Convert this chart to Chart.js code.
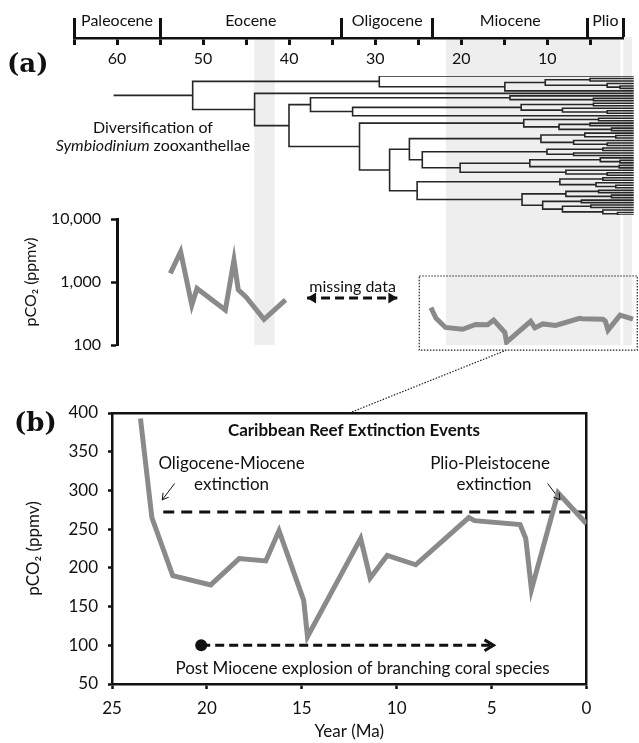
<!DOCTYPE html>
<html lang="en">
<head>
<meta charset="utf-8">
<title>Symbiodinium diversification and pCO2</title>
<script src="https://cdn.jsdelivr.net/npm/chart.js@4.4.1/dist/chart.umd.min.js"></script>
<style>
  html, body { margin: 0; background: #fff; }
  #fig { position: relative; width: 639px; height: 743px; overflow: hidden; color: #111; font-family: Lato, sans-serif; }
  #fig canvas { position: absolute; left: 0; }
  .tag { position: absolute; font: bold 26px/30px "DejaVu Serif", serif; }
  .caption { position: absolute; width: 220px; text-align: center; font-size: 16px; line-height: 18px; }
</style>
</head>
<body>
<div id="fig">
  <canvas id="bands" width="639" height="350" style="top:0"></canvas>
  <canvas id="timeline" width="639" height="80" style="top:0"></canvas>
  <canvas id="tree" width="639" height="155" style="top:70px"></canvas>
  <canvas id="co2a" width="639" height="175" style="top:190px"></canvas>
  <canvas id="co2b" width="639" height="403" style="top:340px"></canvas>
  <div class="tag" style="left:7px;top:48px">(a)</div>
  <div class="tag" style="left:14px;top:407px">(b)</div>
  <div class="caption" style="left:43px;top:118px">Diversification of<br><i>Symbiodinium</i> zooxanthellae</div>
</div>
<script>
// geologic time scale (Ma)
var epochNames = ['Paleocene', 'Eocene', 'Oligocene', 'Miocene', 'Plio'];
var epochBounds = [65, 55, 33.9, 23.3, 5.3, 1.2];
var timeTicks = [65, 60, 55, 50, 45, 40, 35, 30, 25, 20, 15, 10, 5];

// shaded intervals (Ma)
var bandsMa = [[44.0, 41.7], [21.7, 1.5], [1.1, 0.15]];

// Eocene pCO2 record (ppmv)
var eoceneAge = [53.8, 52.6, 51.3, 50.7, 47.4, 46.4, 45.9, 45.0, 42.9, 40.4];
var eoceneCO2 = [1370, 3030, 430, 790, 360, 2230, 750, 580, 255, 520];

// Neogene pCO2 record (ppmv)
var neogeneAge = [23.5, 22.9, 21.8, 19.8, 18.3, 16.9, 16.2, 14.9, 14.7, 11.9, 11.4, 10.5, 9.0, 6.2, 5.9, 3.5, 3.2, 2.9, 1.5, 0];
var neogeneCO2 = [393, 265, 190, 178, 212, 209, 248, 158, 111, 238, 187, 216, 204, 265, 261, 256, 238, 172, 297, 257];

var extinctionLevel = 272;
var extinctionFrom = 22.3;
var radiationStart = 20.3, radiationEnd = 4.9, radiationLevel = 100;

// Symbiodinium clade tree, node ages in Ma (tips are present day)
var TIP = 0;
function N(age) { return { age: age, kids: Array.prototype.slice.call(arguments, 1) }; }
var rootAge = 60.3;
var tree = N(51.2,
  N(29.5,
    TIP,
    N(14.9,
      N(10.2, N(5, TIP, TIP), N(3, TIP, N(1.5, TIP, TIP))),
      TIP)),
  N(44,
    TIP,
    N(40,
      N(37.5,
        N(14.3, TIP, N(4.6, TIP, TIP)),
        N(32.6,
          N(13, N(4.6, TIP, TIP), N(8.2, TIP, N(3, TIP, TIP))),
          TIP)),
      N(31.8,
        N(12.7, N(4, TIP, TIP), N(8.6, N(5, TIP, TIP), N(2.5, TIP, TIP))),
        N(28.3,
          N(26,
            N(10.7, N(5.6, TIP, N(2, TIP, TIP)), N(6.9, TIP, N(3, TIP, TIP))),
            N(24.5,
              N(10, N(3.5, TIP, TIP), N(6.9, TIP, TIP)),
              N(20.1,
                N(12, N(3.8, TIP, N(1.5, TIP, TIP)), N(1.6, TIP, TIP)),
                N(7.8, TIP, N(3, TIP, TIP))))),
          N(25.1,
            N(8.5, N(3.5, TIP, TIP), N(4.3, TIP, N(2, TIP, TIP))),
            N(12.9,
              N(7.8, N(4, TIP, TIP), N(2.5, TIP, TIP)),
              N(10.5, N(6, TIP, TIP), N(8.2, N(4.9, TIP, TIP), N(3.5, TIP, N(1.8, TIP, TIP)))))))))));

// ---- layout ----
var ink = '#111';
var grey = '#8a8a8a';
var shade = '#eeeeee';
Chart.defaults.font.family = 'Lato';
Chart.defaults.color = ink;

// top panel time axis runs from 65 Ma at x=74 to -0.7 Ma at the right edge
var TIME_LEFT = 74, TIME_RIGHT = 639, AGE_OLD = 65, AGE_YOUNG = -0.7;
function ageAtPx(px) {
  return AGE_OLD + (px - TIME_LEFT) * (AGE_YOUNG - AGE_OLD) / (TIME_RIGHT - TIME_LEFT);
}

function xy(xs, ys) { return xs.map(function (x, i) { return { x: x, y: ys[i] }; }); }

function baseOptions(padding) {
  return {
    responsive: false, animation: false, events: [],
    layout: { padding: padding },
    plugins: { legend: { display: false }, tooltip: { enabled: false } }
  };
}

// text placed in data units
function notes(items) {
  return {
    id: 'notes',
    afterDraw: function (chart) {
      var ctx = chart.ctx;
      items.forEach(function (n) {
        ctx.save();
        ctx.font = n.font;
        ctx.fillStyle = ink;
        ctx.textAlign = 'center';
        ctx.textBaseline = 'middle';
        ctx.fillText(n.text, chart.scales.x.getPixelForValue(n.x), chart.scales.y.getPixelForValue(n.y));
        ctx.restore();
      });
    }
  };
}

// arrow heads on the ends of datasets that ask for them
var arrowHeads = {
  id: 'arrowHeads',
  afterDatasetsDraw: function (chart) {
    var ctx = chart.ctx;
    chart.data.datasets.forEach(function (ds, i) {
      if (!ds.arrow) return;
      var pts = chart.getDatasetMeta(i).data;
      function head(tip, from) {
        var a = Math.atan2(tip.y - from.y, tip.x - from.x), s = ds.arrow.size;
        ctx.save();
        ctx.translate(tip.x, tip.y);
        ctx.rotate(a);
        ctx.beginPath();
        ctx.moveTo(-s, -s * 0.6);
        ctx.lineTo(0, 0);
        ctx.lineTo(-s, s * 0.6);
        if (ds.arrow.fill) {
          ctx.closePath();
          ctx.fillStyle = ds.borderColor;
          ctx.fill();
        } else {
          ctx.lineWidth = ds.arrow.width;
          ctx.strokeStyle = ds.borderColor;
          ctx.stroke();
        }
        ctx.restore();
      }
      if (ds.arrow.end) head(pts[pts.length - 1], pts[pts.length - 2]);
      if (ds.arrow.start) head(pts[0], pts[1]);
    });
  }
};

// ---- shaded intervals ----
new Chart(document.getElementById('bands'), {
  type: 'bar',
  data: {
    labels: ['interval'],
    datasets: bandsMa.map(function (b) {
      return { data: [b], backgroundColor: shade, grouped: false, barPercentage: 1, categoryPercentage: 1 };
    })
  },
  options: Object.assign(baseOptions({ left: TIME_LEFT, right: 0, top: 37, bottom: 5 }), {
    indexAxis: 'y',
    scales: {
      x: { type: 'linear', min: AGE_YOUNG, max: AGE_OLD, reverse: true, display: false },
      y: { display: false }
    }
  })
});

// ---- epoch / age axis ----
new Chart(document.getElementById('timeline'), {
  type: 'line',
  data: { datasets: [] },
  options: Object.assign(baseOptions({ left: TIME_LEFT, right: 16, top: 0, bottom: 0 }), {
    scales: {
      x: {
        type: 'linear', position: 'bottom', min: 1.2, max: 65, reverse: true,
        afterBuildTicks: function (s) { s.ticks = timeTicks.map(function (v) { return { value: v }; }); },
        afterFit: function (s) { s.height = 42; },
        ticks: {
          autoSkip: false, maxRotation: 0, padding: 4, color: ink, font: { size: 16 },
          callback: function (v) { return v % 10 === 0 ? String(v) : ''; }
        },
        grid: { drawOnChartArea: false, tickLength: 7, tickWidth: 3, tickColor: ink },
        border: { color: ink, width: 2.5 }
      },
      epochs: {
        type: 'linear', axis: 'x', position: 'top', min: 1.2, max: 65, reverse: true,
        afterBuildTicks: function (s) {
          var t = epochBounds.map(function (v) { return { value: v }; });
          epochNames.forEach(function (name, i) {
            t.push({ value: (epochBounds[i] + epochBounds[i + 1]) / 2, name: name });
          });
          s.ticks = t;
        },
        afterFit: function (s) { s.height = 37; },
        ticks: {
          autoSkip: false, maxRotation: 0, padding: -12, color: ink, font: { size: 16 },
          callback: function (v, i, ticks) { return ticks[i].name || ''; }
        },
        grid: {
          drawOnChartArea: false, tickLength: 19, tickWidth: 3,
          tickColor: function (c) { return c.tick && c.tick.name ? 'rgba(0,0,0,0)' : ink; }
        },
        border: { display: false }
      },
      y: { display: false, min: 0, max: 1 }
    }
  })
});

// ---- phylogeny ----
var branches = [];
var tipCount = 0;
function place(node, parentAge) {
  var age, y;
  if (node === TIP) {
    age = 0;
    y = tipCount++;
  } else {
    var ys = node.kids.map(function (k) { return place(k, node.age); });
    age = node.age;
    y = (ys[0] + ys[ys.length - 1]) / 2;
    branches.push({ x: age, y: ys[0] }, { x: age, y: ys[ys.length - 1] }, { x: age, y: null });
  }
  branches.push({ x: parentAge, y: y }, { x: age, y: y }, { x: age, y: null });
  return y;
}
place(tree, rootAge);

new Chart(document.getElementById('tree'), {
  type: 'line',
  data: {
    datasets: [{
      data: branches, borderColor: '#262626', borderWidth: 1.6, pointRadius: 0,
      spanGaps: false, borderCapStyle: 'square'
    }]
  },
  options: Object.assign(baseOptions({ left: TIME_LEFT, right: 0, top: 6, bottom: 10 }), {
    scales: {
      x: { type: 'linear', min: AGE_YOUNG, max: AGE_OLD, reverse: true, display: false },
      y: { type: 'linear', min: 0, max: tipCount - 1, reverse: true, display: false }
    }
  })
});

// ---- (a) pCO2 on the geologic time axis ----
var boxOld = 24.85, boxYoung = -0.5, boxHigh = 1245, boxLow = 83;
new Chart(document.getElementById('co2a'), {
  type: 'line',
  data: {
    datasets: [
      { data: xy(eoceneAge, eoceneCO2), borderColor: grey, borderWidth: 5, pointRadius: 0, borderJoinStyle: 'miter' },
      { data: xy(neogeneAge, neogeneCO2), borderColor: grey, borderWidth: 5, pointRadius: 0, borderJoinStyle: 'miter' },
      {
        data: [{ x: 37.9, y: 557 }, { x: 27.4, y: 557 }], borderColor: ink, borderWidth: 3,
        borderDash: [9, 5], pointRadius: 0, arrow: { start: true, end: true, fill: true, size: 9 }
      },
      {
        data: [{ x: boxOld, y: boxHigh }, { x: boxYoung, y: boxHigh }, { x: boxYoung, y: boxLow },
               { x: boxOld, y: boxLow }, { x: boxOld, y: boxHigh }],
        borderColor: '#222', borderWidth: 1.2, borderDash: [1.5, 1.5], pointRadius: 0, clip: false
      }
    ]
  },
  options: Object.assign(baseOptions({ left: 0, right: 0, top: 29, bottom: 20 }), {
    scales: {
      x: { type: 'linear', min: AGE_YOUNG, max: ageAtPx(117), reverse: true, display: false },
      y: {
        type: 'logarithmic', min: 100, max: 10000,
        afterBuildTicks: function (s) { s.ticks = [100, 1000, 10000].map(function (v) { return { value: v }; }); },
        afterFit: function (s) { s.width = 117; },
        ticks: {
          padding: 10, color: ink, font: { size: 16 },
          callback: function (v) { return Number(v).toLocaleString('en-US'); }
        },
        grid: { drawOnChartArea: false, tickLength: 6, tickWidth: 2.5, tickColor: ink },
        border: { color: ink, width: 3 },
        title: { display: true, text: 'pCO\u2082 (ppmv)', font: { size: 16 }, padding: { top: 21, bottom: 0 } }
      }
    }
  }),
  plugins: [arrowHeads, notes([{ text: 'missing data', x: 32.6, y: 842, font: '16px Lato' }])]
});

// ---- (b) Neogene pCO2 and Caribbean reef extinctions ----
var frameAxis = {
  type: 'linear', grid: { drawOnChartArea: false, drawTicks: false },
  ticks: { display: false }, border: { color: ink, width: 2.5 }
};
new Chart(document.getElementById('co2b'), {
  type: 'line',
  data: {
    datasets: [
      { data: xy(neogeneAge, neogeneCO2), borderColor: grey, borderWidth: 5, pointRadius: 0, borderJoinStyle: 'miter' },
      {
        data: [{ x: extinctionFrom, y: extinctionLevel }, { x: 0, y: extinctionLevel }],
        borderColor: ink, borderWidth: 3, borderDash: [11, 7], pointRadius: 0
      },
      {
        data: [{ x: radiationStart, y: radiationLevel }, { x: radiationEnd, y: radiationLevel }],
        borderColor: ink, borderWidth: 3, borderDash: [9, 5],
        pointRadius: [6, 0], pointBackgroundColor: ink, pointBorderWidth: 0,
        arrow: { end: true, fill: false, size: 9, width: 3 }
      },
      {
        data: [{ x: 21.7, y: 309 }, { x: 22.35, y: 288 }], borderColor: ink, borderWidth: 1,
        pointRadius: 0, arrow: { end: true, fill: false, size: 6, width: 1 }
      },
      {
        data: [{ x: 2.05, y: 309 }, { x: 1.4, y: 288 }], borderColor: ink, borderWidth: 1,
        pointRadius: 0, arrow: { end: true, fill: false, size: 6, width: 1 }
      },
      {
        data: [{ x: 12.5, y: 400 }, { x: 4.24, y: 481 }], borderColor: '#222', borderWidth: 1.2,
        borderDash: [1.5, 1.5], pointRadius: 0, clip: false
      }
    ]
  },
  options: Object.assign(baseOptions({ left: 0, right: 52.5, top: 73, bottom: 0 }), {
    scales: {
      x: {
        type: 'linear', min: 0, max: 25, reverse: true,
        afterFit: function (s) { s.height = 59; },
        ticks: { stepSize: 5, padding: 9, color: ink, font: { size: 17 }, maxRotation: 0 },
        grid: { drawOnChartArea: false, tickLength: 5, tickWidth: 2.5, tickColor: ink },
        border: { color: ink, width: 2.5 },
        title: { display: true, text: 'Year (Ma)', font: { size: 17 }, padding: { top: 0, bottom: 1 } }
      },
      y: {
        type: 'linear', min: 50, max: 400,
        afterFit: function (s) { s.width = 112; },
        ticks: { stepSize: 50, padding: 10, color: ink, font: { size: 17 } },
        grid: { drawOnChartArea: false, tickLength: 4, tickWidth: 2.5, tickColor: ink },
        border: { color: ink, width: 2.5 },
        title: { display: true, text: 'pCO\u2082 (ppmv)', font: { size: 17 }, padding: { top: 23, bottom: 0 } }
      },
      xTop: Object.assign({ axis: 'x', position: 'top', min: 0, max: 25, afterFit: function (s) { s.height = 0; } }, frameAxis),
      yRight: Object.assign({ axis: 'y', position: 'right', min: 50, max: 400, afterFit: function (s) { s.width = 0; } }, frameAxis)
    }
  }),
  plugins: [arrowHeads, notes([
    { text: 'Caribbean Reef Extinction Events', x: 12.25, y: 378, font: 'bold 17px Lato' },
    { text: 'Oligocene-Miocene', x: 18.7, y: 335, font: '17px Lato' },
    { text: 'extinction', x: 18.7, y: 307, font: '17px Lato' },
    { text: 'Plio-Pleistocene', x: 5.08, y: 335, font: '17px Lato' },
    { text: 'extinction', x: 4.87, y: 307, font: '17px Lato' },
    { text: 'Post Miocene explosion of branching coral species', x: 11.8, y: 70.5, font: '17px Lato' }
  ])]
});
</script>
</body>
</html>
